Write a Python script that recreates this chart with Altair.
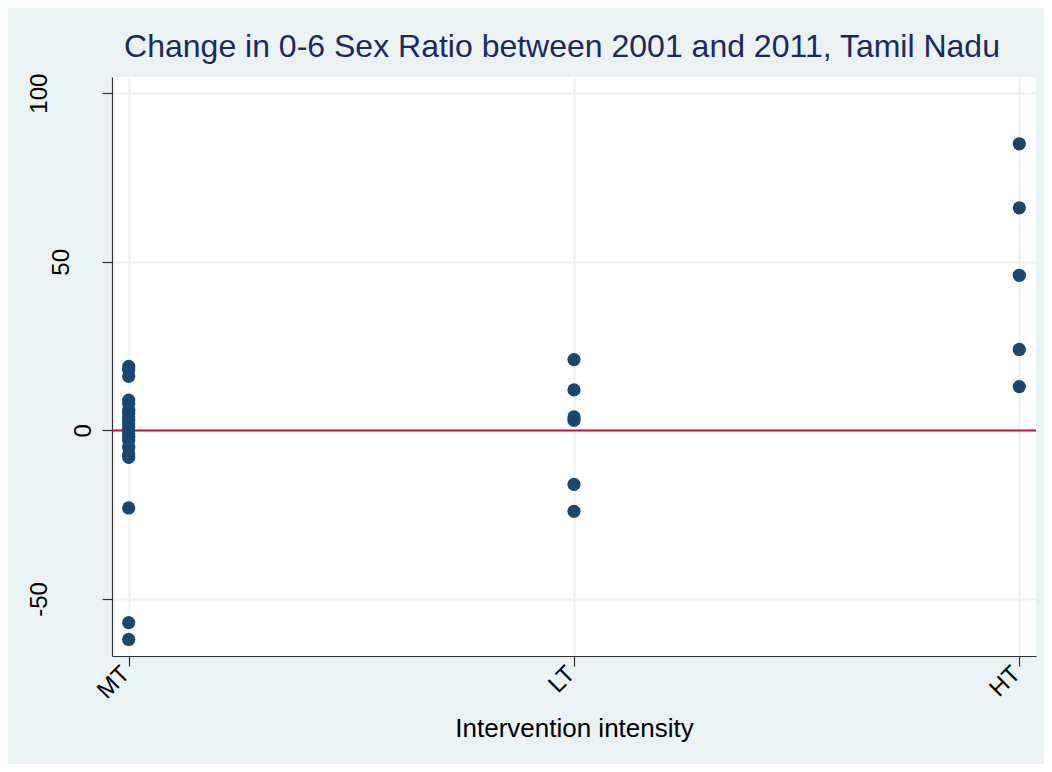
import altair as alt
import pandas as pd

# ---- data ----
categories = ["MT", "LT", "HT"]
mt_values = [19, 18, 16, 9, 8, 6, 5, 4, 3, 2, 1, 0, -1, -2, -3, -5, -7, -8, -23, -57, -62]
lt_values = [21, 12, 4, 3, -16, -24]
ht_values = [85, 66, 46, 24, 13]
y_ticks = [-50, 0, 50, 100]
zero_line = [0]

title_text = "Change in 0-6 Sex Ratio between 2001 and 2011, Tamil Nadu"
x_title = "Intervention intensity"

rows = (
    [{"group": "MT", "value": v} for v in mt_values]
    + [{"group": "LT", "value": v} for v in lt_values]
    + [{"group": "HT", "value": v} for v in ht_values]
)
df = pd.DataFrame(rows)
zdf = pd.DataFrame({"y": zero_line})

FONT = "Liberation Sans"
BG = "#EAF2F3"
NAVY = "#1A476F"

x_enc = alt.X(
    "group:N",
    sort=categories,
    scale=alt.Scale(type="point", padding=0.0375),
    axis=alt.Axis(
        title=x_title,
        labelAngle=315,
        labelAlign="right",
        labelBaseline="middle",
        labelPadding=4,
        labelOffset=-3,
        labelFontSize=24,
        tickSize=10,
        titleFontSize=26,
        titleFontWeight="normal",
        titleY=80,
        titleBaseline="alphabetic",
        grid=True,
    ),
)

y_scale = alt.Scale(domain=[-66.9, 104.8], nice=False, zero=False)
y_axis = alt.Axis(
    title=None,
    values=y_ticks,
    labelExpr="datum.value + ''",
    labelAngle=270,
    labelAlign="center",
    labelBaseline="alphabetic",
    labelFontSize=24,
    tickSize=10,
    labelPadding={
        "condition": [
            {"test": "datum.value == 0", "value": 12},
            {"test": "datum.value == 50", "value": 34},
        ],
        "value": 56,
    },
    grid=True,
)

rule = alt.Chart(zdf).mark_rule(color="#C0143C", strokeWidth=2).encode(
    y=alt.Y("y:Q", scale=y_scale, axis=y_axis)
)

points = alt.Chart(df).mark_circle(size=175, color=NAVY, opacity=1).encode(
    x=x_enc,
    y=alt.Y("value:Q", scale=y_scale, axis=y_axis),
)

chart = (
    alt.layer(rule, points)
    .properties(
        width=924,
        height=579,
        background=BG,
        padding={"left": 104, "top": 69, "right": 8, "bottom": 108},
        autosize=alt.AutoSizeParams(type="none"),
        title=alt.TitleParams(
            title_text,
            fontSize=32,
            fontWeight="normal",
            color="#1C2A5A",
            font=FONT,
            anchor="middle",
            dx=-12,
            dy=37,
            offset=21,
            baseline="alphabetic",
        ),
    )
    .configure_view(fill="white", stroke=None)
    .configure_axis(
        labelFont=FONT,
        titleFont=FONT,
        labelColor="#000000",
        titleColor="#000000",
        domainColor="#333333",
        domainWidth=1.2,
        tickColor="#333333",
        tickWidth=1.2,
        gridColor=BG,
        gridWidth=2,
        gridOpacity=1,
    )
)

chart.save("out.html", embed_options={"renderer": "svg", "actions": False})
